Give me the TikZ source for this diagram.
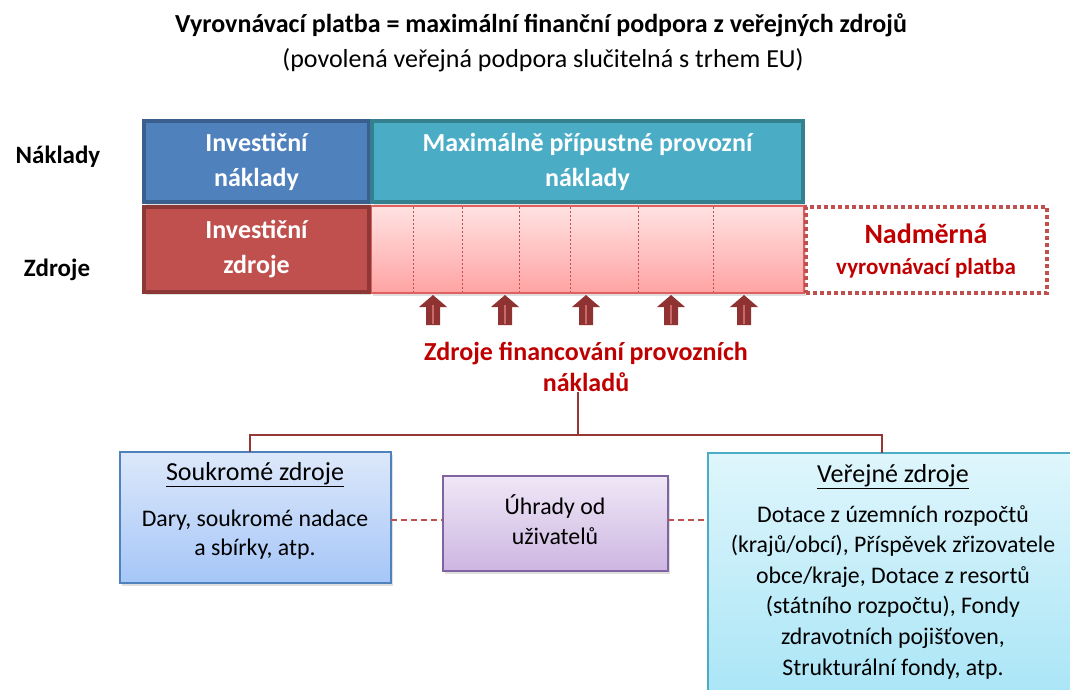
\documentclass[tikz,border=0pt]{standalone}
\usepackage{fontspec}
\setmainfont{Carlito}
\usetikzlibrary{shadows}
\definecolor{invblue}{HTML}{4F81BD}
\definecolor{invbluedark}{HTML}{3A5F8F}
\definecolor{teal}{HTML}{4BACC6}
\definecolor{tealdark}{HTML}{34808F}
\definecolor{invred}{HTML}{C0504D}
\definecolor{invreddark}{HTML}{8C3836}
\definecolor{pinktop}{HTML}{FFE2E2}
\definecolor{pinkbot}{HTML}{FFA3A3}
\definecolor{pinkline}{HTML}{E06060}
\definecolor{darkred}{HTML}{C00000}
\definecolor{arrowred}{HTML}{8E3331}
\definecolor{treeline}{HTML}{953735}
\definecolor{sblue1}{HTML}{DDE8FA}
\definecolor{sblue2}{HTML}{A5C6F8}
\definecolor{sbluedge}{HTML}{4F81BD}
\definecolor{lav1}{HTML}{EFE7F6}
\definecolor{lav2}{HTML}{CDB6E2}
\definecolor{lavedge}{HTML}{8064A2}
\definecolor{cyan1}{HTML}{DFF6FC}
\definecolor{cyan2}{HTML}{A6E4F6}
\definecolor{cyanedge}{HTML}{4BACC6}
\begin{document}
\begin{tikzpicture}[x=1pt,y=-1pt,
  every node/.style={inner sep=0pt, outer sep=0pt, align=center},
  topbox/.style={anchor=north west, text=white, font=\fontsize{26}{35}\selectfont\bfseries, line width=3.5pt},
  shad/.style={drop shadow={opacity=0.25, shadow xshift=2pt, shadow yshift=-3pt}},
  srcbox/.style={anchor=north west, line width=1.5pt, shad},
  tree/.style={draw=treeline, line width=1.5pt},
  dashlink/.style={draw=invred, line width=1.5pt, dash pattern=on 6pt off 4pt}
]
\useasboundingbox (0,0) rectangle (1070,689);
\clip (0,0) rectangle (1070,689);

% title
\node[font=\fontsize{26}{30}\selectfont\bfseries] (title) at (541,25) {Vyrovnávací platba = maximální finanční podpora z veřejných zdrojů};
\node[font=\fontsize{26}{30}\selectfont] (subtitle) at (543,60) {(povolená veřejná podpora slučitelná s trhem EU)};

% row labels
\node[font=\fontsize{25}{30}\selectfont\bfseries] (naklady) at (58,157) {Náklady};
\node[font=\fontsize{25}{30}\selectfont\bfseries] (zdroje) at (57,270) {Zdroje};

% top row
\node[topbox, fill=invblue, draw=invbluedark, minimum width=225pt, minimum height=81pt, shad] (invn) at (144,121) {Investiční\\náklady};
\node[topbox, fill=teal, draw=tealdark, minimum width=431pt, minimum height=81pt, shad] (maxn) at (372,121) {Maximálně přípustné provozní\\náklady};

% bottom row
\node[anchor=north west, minimum width=433pt, minimum height=87pt, top color=pinktop, bottom color=pinkbot, draw=pinkline, line width=1.5pt, shad] (pink) at (371,206) {};
\foreach \xx in {413,462,519,570,638,713}{
  \draw[invred, line width=0.6pt, dash pattern=on 2pt off 2pt] (\xx,207) -- (\xx,292);
}
\node[topbox, fill=invred, draw=invreddark, minimum width=225pt, minimum height=85pt, shad] (invz) at (144,207) {Investiční\\zdroje};

% excessive payment
\node[anchor=north west, minimum width=241pt, minimum height=86pt, draw=invred, line width=4pt, dash pattern=on 4pt off 3pt] (nadm) at (806,207) {};
\node[text=darkred, font=\fontsize{28}{30}\selectfont\bfseries] (nadm1) at (926,234) {Nadměrná};
\node[text=darkred, font=\fontsize{23}{26}\selectfont\bfseries] (nadm2) at (926,268) {vyrovnávací platba};

% up arrows
\foreach \ax/\nm in {433/a1,505/a2,586/a3,671/a4,744/a5}{
  \fill[arrowred] (\ax-7,325) -- (\ax-7,307) -- (\ax-14,307) -- (\ax,295) -- (\ax+14,307) -- (\ax+7,307) -- (\ax+7,325) -- cycle;
  \draw[invred!85, line width=2pt] (\ax,305) -- (\ax,324);
  \coordinate (\nm) at (\ax,295);
}

% financing label
\node[text=darkred, font=\fontsize{26}{31}\selectfont\bfseries] (fin) at (586,367) {Zdroje financování provozních\\nákladů};

% source boxes
\node[srcbox, top color=sblue1, bottom color=sblue2, draw=sbluedge, minimum width=271pt, minimum height=131pt] (souk) at (120,452) {};
\node[font=\fontsize{26}{30}\selectfont] (soukt) at (255,475) {\underline{Soukromé zdroje}};
\node[font=\fontsize{23.8}{29}\selectfont] (soukb) at (255,535) {Dary, soukromé nadace\\a sbírky, atp.};

\node[srcbox, top color=lav1, bottom color=lav2, draw=lavedge, minimum width=225pt, minimum height=95pt] (uhr) at (443,476) {};
\node[font=\fontsize{23.8}{30}\selectfont] (uhrt) at (555,520) {Úhrady od\\uživatelů};

\node[srcbox, top color=cyan1, bottom color=cyan2, draw=cyanedge, minimum width=400pt, minimum height=260pt] (ver) at (708,453) {};
\node[font=\fontsize{26}{30}\selectfont] (vert) at (893,477) {\underline{Veřejné zdroje}};
\node[font=\fontsize{23.8}{30.6}\selectfont] (verb) at (893,592) {Dotace z územních rozpočtů\\(krajů/obcí), Příspěvek zřizovatele\\obce/kraje, Dotace z resortů\\(státního rozpočtu), Fondy\\zdravotních pojišťoven,\\Strukturální fondy, atp.};

% tree connector
\coordinate (hub) at (578,435);
\draw[tree] (fin.south -| hub) -- (hub);
\draw[tree] (souk.north -| 250,0) |- (hub) -| (ver.north -| 882,0);

% dashed links
\draw[dashlink] (souk.east |- 0,520) -- (uhr.west |- 0,520);
\draw[dashlink] (uhr.east |- 0,520) -- (ver.west |- 0,520);
\end{tikzpicture}
\end{document}
